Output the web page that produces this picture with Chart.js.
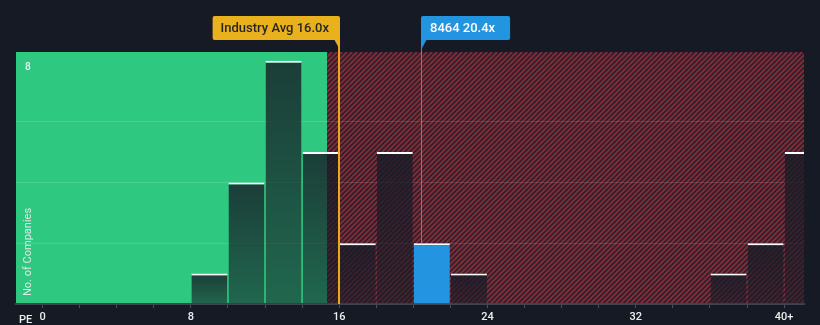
<!DOCTYPE html>
<html>
<head>
<meta charset="utf-8">
<script src="https://cdn.jsdelivr.net/npm/chart.js@4.4.1/dist/chart.umd.min.js"></script>
<style>
  html, body { margin: 0; padding: 0; background: #151a24; }
  #wrap { width: 820px; height: 325px; }
</style>
</head>
<body>
<div id="wrap"><canvas id="peChart" width="820" height="325"></canvas></div>
<script>
// PE bins (centre of each 2x wide bin) and number of companies
const binCenters = [9, 11, 13, 15, 17, 19, 21, 23, 37, 39, 41];
const companyCounts = [1, 4, 8, 5, 2, 5, 2, 1, 1, 2, 5];
const highlightIndex = 6; // bin that holds 8464

const xTicks = [0, 2, 4, 6, 8, 10, 12, 14, 16, 18, 20, 22, 24, 26, 28, 30, 32, 34, 36, 38, 40];
const xLabels = { 0: '0', 8: '8', 16: '16', 24: '24', 32: '32', 40: '40+' };
const yGridValues = [2, 4, 6, 8];
const yLabelValue = 8;

const industryAvg = 16.0;
const companyPE = 20.4;
const fairSplit = 15.35; // where green area ends and red hatch starts
const companyName = '8464';

const FONT = 'Roboto, "Noto Sans", sans-serif';

function barFill(c) {
  if (c.dataIndex === highlightIndex) return '#2394e0';
  const chart = c.chart;
  if (!chart.chartArea || !chart.scales.y) return 'rgba(22,27,38,0.68)';
  const ys = chart.scales.y;
  const top = ys.getPixelForValue(companyCounts[c.dataIndex]);
  const bottom = ys.getPixelForValue(0);
  const g = chart.ctx.createLinearGradient(0, top, 0, bottom);
  g.addColorStop(0, 'rgba(22,27,38,0.8)');
  g.addColorStop(1, 'rgba(22,27,38,0.56)');
  return g;
}

// green + hatched backgrounds, before the grid
const backdrop = {
  id: 'backdrop',
  beforeDraw(chart) {
    const { ctx, chartArea: a, scales: { x } } = chart;
    const split = x.getPixelForValue(fairSplit);
    ctx.save();
    ctx.fillStyle = '#2ec880';
    ctx.fillRect(a.left, a.top, split - a.left, a.bottom - a.top);

    ctx.beginPath();
    ctx.rect(split, a.top, a.right - split, a.bottom - a.top);
    ctx.clip();
    ctx.fillStyle = '#1a1c27';
    ctx.fillRect(split, a.top, a.right - split, a.bottom - a.top);
    ctx.strokeStyle = '#7b2c37';
    ctx.lineWidth = 2.4;
    const h = a.bottom - a.top;
    for (let k = split - h; k < a.right + 5; k += 5) {
      ctx.beginPath();
      ctx.moveTo(k, a.bottom);
      ctx.lineTo(k + h, a.top);
      ctx.stroke();
    }
    ctx.restore();
  }
};

function tagBox(ctx, x0, x1, y0, y1, fill) {
  const r = 2;
  ctx.fillStyle = fill;
  ctx.beginPath();
  ctx.moveTo(x0 + r, y0);
  ctx.lineTo(x1 - r, y0);
  ctx.quadraticCurveTo(x1, y0, x1, y0 + r);
  ctx.lineTo(x1, y1 - r);
  ctx.quadraticCurveTo(x1, y1, x1 - r, y1);
  ctx.lineTo(x0 + r, y1);
  ctx.quadraticCurveTo(x0, y1, x0, y1 - r);
  ctx.lineTo(x0, y0 + r);
  ctx.quadraticCurveTo(x0, y0, x0 + r, y0);
  ctx.fill();
}

// reference lines, tags and loose text
const overlay = {
  id: 'overlay',
  afterDatasetsDraw(chart) {
    const { ctx, chartArea: a, scales: { x, y } } = chart;
    ctx.save();

    // industry average
    const ax = Math.round(x.getPixelForValue(industryAvg));
    ctx.strokeStyle = '#e9a918';
    ctx.lineWidth = 2;
    ctx.beginPath();
    ctx.moveTo(ax, 18);
    ctx.lineTo(ax, a.bottom);
    ctx.stroke();
    ctx.font = '500 13px ' + FONT;
    const t1 = 'Industry Avg ' + industryAvg.toFixed(1) + 'x';
    const w1 = ctx.measureText(t1).width;
    tagBox(ctx, ax + 1 - (w1 + 19), ax + 1, 16, 40, '#e9b11c');
    ctx.beginPath();
    ctx.moveTo(ax - 5, 39);
    ctx.lineTo(ax + 1, 39);
    ctx.lineTo(ax + 1, 50);
    ctx.closePath();
    ctx.fill();
    ctx.fillStyle = '#262626';
    ctx.textBaseline = 'middle';
    ctx.textAlign = 'left';
    ctx.fillText(t1, ax + 1 - (w1 + 19) + 8, 28.5);

    // company
    const cx = Math.round(x.getPixelForValue(companyPE)) + 0.5;
    const barTop = y.getPixelForValue(companyCounts[highlightIndex]);
    ctx.strokeStyle = '#3b8fd6';
    ctx.lineWidth = 1;
    ctx.beginPath();
    ctx.moveTo(cx, 30);
    ctx.lineTo(cx, barTop);
    ctx.stroke();
    const t2 = companyName + ' ' + companyPE.toFixed(1) + 'x';
    const w2 = ctx.measureText(t2).width;
    tagBox(ctx, cx - 0.5, cx - 0.5 + w2 + 24, 16, 40, '#2394e0');
    ctx.beginPath();
    ctx.moveTo(cx - 0.5, 39);
    ctx.lineTo(cx + 5.5, 39);
    ctx.lineTo(cx - 0.5, 50);
    ctx.closePath();
    ctx.fill();
    ctx.fillStyle = '#ffffff';
    ctx.fillText(t2, cx - 0.5 + 9, 28.5);

    // y label inside the plot, just under its grid line
    ctx.fillStyle = '#f0f0f0';
    ctx.font = '500 10px ' + FONT;
    ctx.fillText(String(yLabelValue), a.left + 9, y.getPixelForValue(yLabelValue) + 7);

    // axis captions
    ctx.fillStyle = '#eeeeee';
    ctx.font = '500 11px ' + FONT;
    ctx.fillText('PE', 19, 320);
    ctx.translate(28, 296);
    ctx.rotate(-Math.PI / 2);
    ctx.font = '11px ' + FONT;
    ctx.fillStyle = '#e6e6e6';
    ctx.fillText('No. of Companies', 0, 0);
    ctx.restore();
  }
};

const ctx = document.getElementById('peChart').getContext('2d');

const chart = new Chart(ctx, {
  type: 'bar',
  data: {
    datasets: [{
      data: binCenters.map((b, i) => ({ x: b, y: companyCounts[i] })),
      backgroundColor: barFill,
      borderColor: '#ffffff',
      borderWidth: { top: 2, left: 0, right: 0, bottom: 0 },
      borderSkipped: 'bottom',
      barPercentage: 0.97,
      categoryPercentage: 1
    }]
  },
  options: {
    responsive: false,
    animation: false,
    layout: { padding: { top: 52, left: 16, right: 16, bottom: 0 } },
    plugins: { legend: { display: false }, tooltip: { enabled: false } },
    scales: {
      x: {
        type: 'linear',
        offset: false,
        min: -1.43,
        max: 41.07,
        afterBuildTicks: (s) => { s.ticks = xTicks.map(v => ({ value: v })); },
        afterFit: (s) => { s.height = 21; },
        ticks: {
          autoSkip: false,
          maxRotation: 0,
          padding: 3,
          color: '#eeeeee',
          font: { family: FONT, size: 11, weight: '500' },
          callback: (v) => xLabels[v] !== undefined ? xLabels[v] : ''
        },
        grid: { offset: false, drawOnChartArea: false, drawTicks: true, tickLength: 4, color: '#4a505c' },
        border: { color: '#3e444f', width: 2 }
      },
      y: {
        min: 0,
        max: 8.29,
        afterFit: (s) => { s.width = 0; },
        ticks: { stepSize: 2, display: false },
        grid: {
          drawTicks: false,
          color: (c) => yGridValues.includes(c.tick && c.tick.value) ? 'rgba(255,255,255,0.13)' : 'rgba(0,0,0,0)'
        },
        border: { display: false }
      }
    }
  },
  plugins: [backdrop, overlay]
});
</script>
</body>
</html>
